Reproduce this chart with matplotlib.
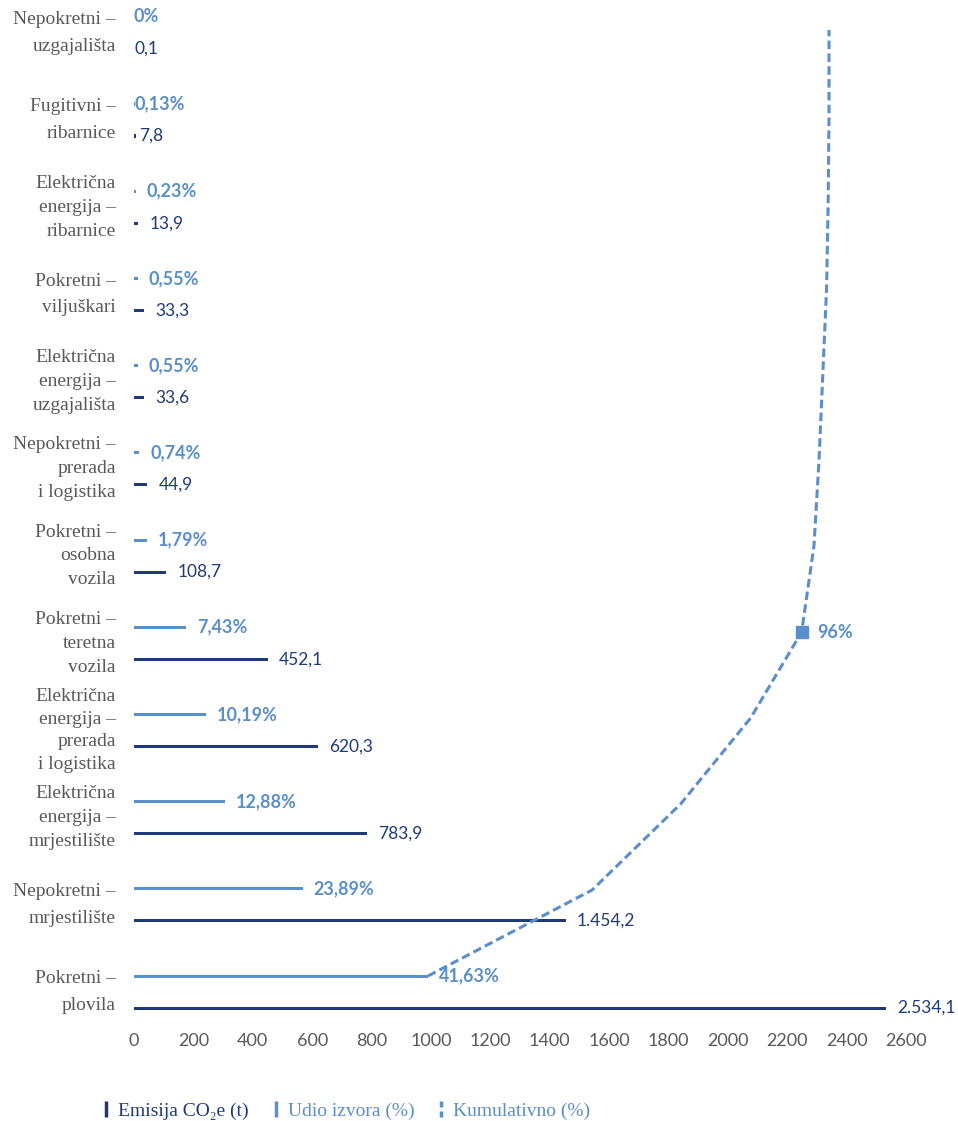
import matplotlib
matplotlib.use("Agg")
import matplotlib.pyplot as plt
from matplotlib.lines import Line2D
from matplotlib.path import Path

# ---------------- data (bottom to top) ----------------
categories = [
    "Pokretni –\nplovila",
    "Nepokretni –\nmrjestilište",
    "Električna\nenergija –\nmrjestilište",
    "Električna\nenergija –\nprerada\ni logistika",
    "Pokretni –\nteretna\nvozila",
    "Pokretni –\nosobna\nvozila",
    "Nepokretni –\nprerada\ni logistika",
    "Električna\nenergija –\nuzgajališta",
    "Pokretni –\nviljuškari",
    "Električna\nenergija –\nribarnice",
    "Fugitivni –\nribarnice",
    "Nepokretni –\nuzgajališta",
]
emissions = [2534.1, 1454.2, 783.9, 620.3, 452.1, 108.7, 44.9, 33.6, 33.3, 13.9, 7.8, 0.1]
shares = [41.63, 23.89, 12.88, 10.19, 7.43, 1.79, 0.74, 0.55, 0.55, 0.23, 0.13, 0.0]
cumulative = [41.63, 65.52, 78.40, 88.59, 96.02, 97.81, 98.55, 99.10, 99.65, 99.88, 100.0, 100.0]
xticks = [0, 200, 400, 600, 800, 1000, 1200, 1400, 1600, 1800, 2000, 2200, 2400, 2600]
highlight_idx = 4
highlight_label = "96%"

# ---------------- style ----------------
NAVY = "#1F3A78"
LIGHT = "#5B8FC9"
GREY = "#595959"
SERIF = ["Liberation Serif", "DejaVu Serif"]
SANS = ["Lato", "DejaVu Sans"]

emis_pad_px = [11] * 10 + [3, 0]
share_pad_px = [11] * 10 + [0, 0]
line_spacing = {2: 1.74, 3: 1.53, 4: 1.43}

W, H = 958, 1121
fig = plt.figure(figsize=(W / 100, H / 100), dpi=100)

left_px, right_px = 134, 906
bot_px, top_px = 1025, 5
rect = [left_px / W, 1 - bot_px / H, (right_px - left_px) / W, (bot_px - top_px) / H]

# main axis (emissions)
ax = fig.add_axes(rect)
step = 87.2
cy0 = 992
ax.set_ylim((cy0 - bot_px) / step, (cy0 - top_px) / step)
ax.set_xlim(0, 2600)
off = 16 / step
bh = 3 / step

ypos = list(range(len(categories)))
ax.barh([y - off for y in ypos], emissions, height=bh, color=NAVY, linewidth=0)
for sp in ax.spines.values():
    sp.set_visible(False)
ax.set_xticks(xticks)
ax.set_xticklabels([str(t) for t in xticks], fontsize=13, color=GREY, family=SANS)
ax.tick_params(axis="x", length=0, pad=6)
ax.set_yticks(ypos)
ax.set_yticklabels(categories, fontsize=14, color=GREY, family=SERIF, ha="right",
                   va="center")
ax.tick_params(axis="y", length=0, pad=13)
for lbl in ax.get_yticklabels():
    n = lbl.get_text().count("\n") + 1
    lbl.set_linespacing(line_spacing.get(n, 1.45))

def fmt_emis(v):
    s = f"{v:,.1f}"
    return s.replace(",", "X").replace(".", ",").replace("X", ".")

def fmt_share(v):
    if v == 0:
        return "0%"
    return f"{v:.2f}".replace(".", ",") + "%"

for y, v, p in zip(ypos, emissions, emis_pad_px):
    ax.annotate(fmt_emis(v), xy=(v, y - off), xytext=(p * 0.72, 0),
                textcoords="offset points", va="center", ha="left",
                fontsize=12.5, color=NAVY, family=SANS, annotation_clip=False)

# share axis
ax2 = fig.add_axes(rect, frameon=False)
ax2.set_ylim(ax.get_ylim())
ax2.set_xlim(0, (right_px - left_px) / 7.062)
ax2.barh([y + off for y in ypos], shares, height=bh, color=LIGHT, linewidth=0)
for y, v, p in zip(ypos, shares, share_pad_px):
    ax2.annotate(fmt_share(v), xy=(v, y + off), xytext=(p * 0.72, 0),
                 textcoords="offset points", va="center", ha="left",
                 fontsize=13, color=LIGHT, fontweight="bold", family=SANS,
                 annotation_clip=False)
ax2.set_xticks([]); ax2.set_yticks([])

# cumulative axis
ax3 = fig.add_axes(rect, frameon=False)
ax3.set_xlim((left_px - 142) / 6.87, (right_px - 142) / 6.87)
ax3.set_ylim((976 - bot_px) / 86, (976 - top_px) / 86)
ax3.plot(cumulative, ypos, color=LIGHT, lw=2.2, dashes=(2.8, 1.4))
ax3.plot([cumulative[highlight_idx]], [ypos[highlight_idx]], marker="s",
         markersize=8, color=LIGHT, linestyle="none")
ax3.annotate(highlight_label, xy=(cumulative[highlight_idx], ypos[highlight_idx]),
             xytext=(11, 0), textcoords="offset points", va="center", ha="left",
             fontsize=13, color=LIGHT, fontweight="bold", family=SANS)
ax3.set_xticks([]); ax3.set_yticks([])

# legend
broken = Path([(0, -1), (0, -0.2), (0, 0.2), (0, 1)],
              [Path.MOVETO, Path.LINETO, Path.MOVETO, Path.LINETO])
handles = [
    Line2D([], [], marker="|", linestyle="none", color=NAVY, markersize=12, mew=2.5),
    Line2D([], [], marker="|", linestyle="none", color=LIGHT, markersize=12, mew=2.5),
    Line2D([], [], marker=broken, linestyle="none", color=LIGHT, markersize=12,
           mew=2.5, markerfacecolor="none"),
]
labels = ["Emisija CO₂e (t)", "Udio izvora (%)", "Kumulativno (%)"]
leg = fig.legend(handles, labels, loc="center left",
                 bbox_to_anchor=(83 / W, 1 - 1111 / H), ncol=3, frameon=False,
                 handlelength=0.6, handletextpad=0.3, columnspacing=1.1,
                 prop={"family": SERIF, "size": 14},
                 labelcolor=[NAVY, LIGHT, LIGHT])

fig.savefig("out.png", dpi=100)
